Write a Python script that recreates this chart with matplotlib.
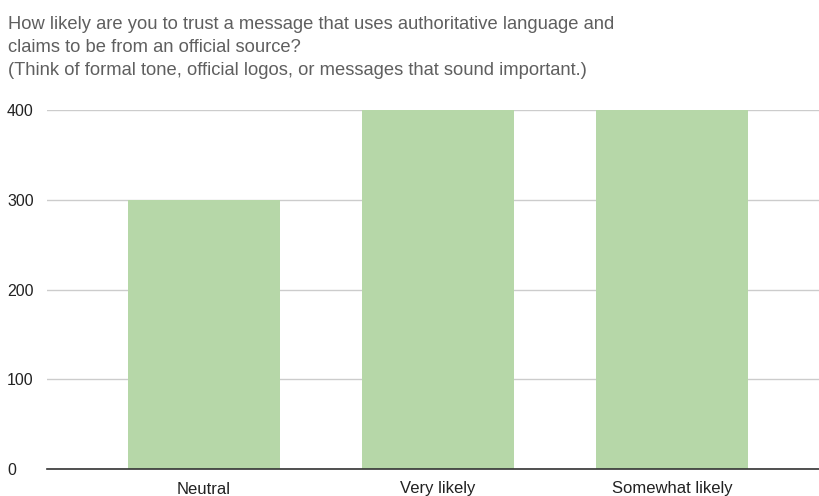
import matplotlib
matplotlib.use("Agg")
import matplotlib.pyplot as plt
import matplotlib.transforms as mtransforms

categories = ["Neutral", "Very likely", "Somewhat likely"]
values = [300, 400, 400]
yticks = [0, 100, 200, 300, 400]
title_lines = [
    "How likely are you to trust a message that uses authoritative language and",
    "claims to be from an official source?",
    "(Think of formal tone, official logos, or messages that sound important.)",
]

plt.rcParams['font.family'] = ['Liberation Sans', 'DejaVu Sans']
fig = plt.figure(figsize=(8.2, 4.96), dpi=100)
W, H = 820, 496
ax = fig.add_axes([47 / W, 1 - 469 / H, (820 - 47) / W, (469 - 110) / H])

x = list(range(len(categories)))
ax.bar(x, values, width=0.65, color="#b6d7a8", zorder=2)
ax.set_xlim(-0.671, 2.632)
ax.set_ylim(0, 400)
ax.set_yticks(yticks)
ax.set_yticklabels([str(v) for v in yticks])
ax.set_xticks(x)
ax.set_xticklabels(categories)
ax.grid(axis="y", color="#cccccc", linewidth=1, zorder=0)
for s in ["top", "right", "left"]:
    ax.spines[s].set_visible(False)
ax.spines["bottom"].set_color("#333333")
ax.spines["bottom"].set_linewidth(1.2)
ax.spines["bottom"].set_zorder(3)
ax.tick_params(axis="both", length=0, labelcolor="#222222")
ax.tick_params(axis="y", labelsize=11.5)
ax.tick_params(axis="x", labelsize=12, pad=9)
for lbl in ax.get_yticklabels():
    lbl.set_horizontalalignment("left")
    lbl.set_transform(mtransforms.blended_transform_factory(fig.transFigure, ax.transData))
    lbl.set_x(7 / W)

baselines = [29, 52, 75]
for line, b in zip(title_lines, baselines):
    fig.text(8 / W, 1 - b / H, line, ha="left", va="baseline", fontsize=13.2, color="#5f5f5f")

fig.savefig("out.png", dpi=100)
